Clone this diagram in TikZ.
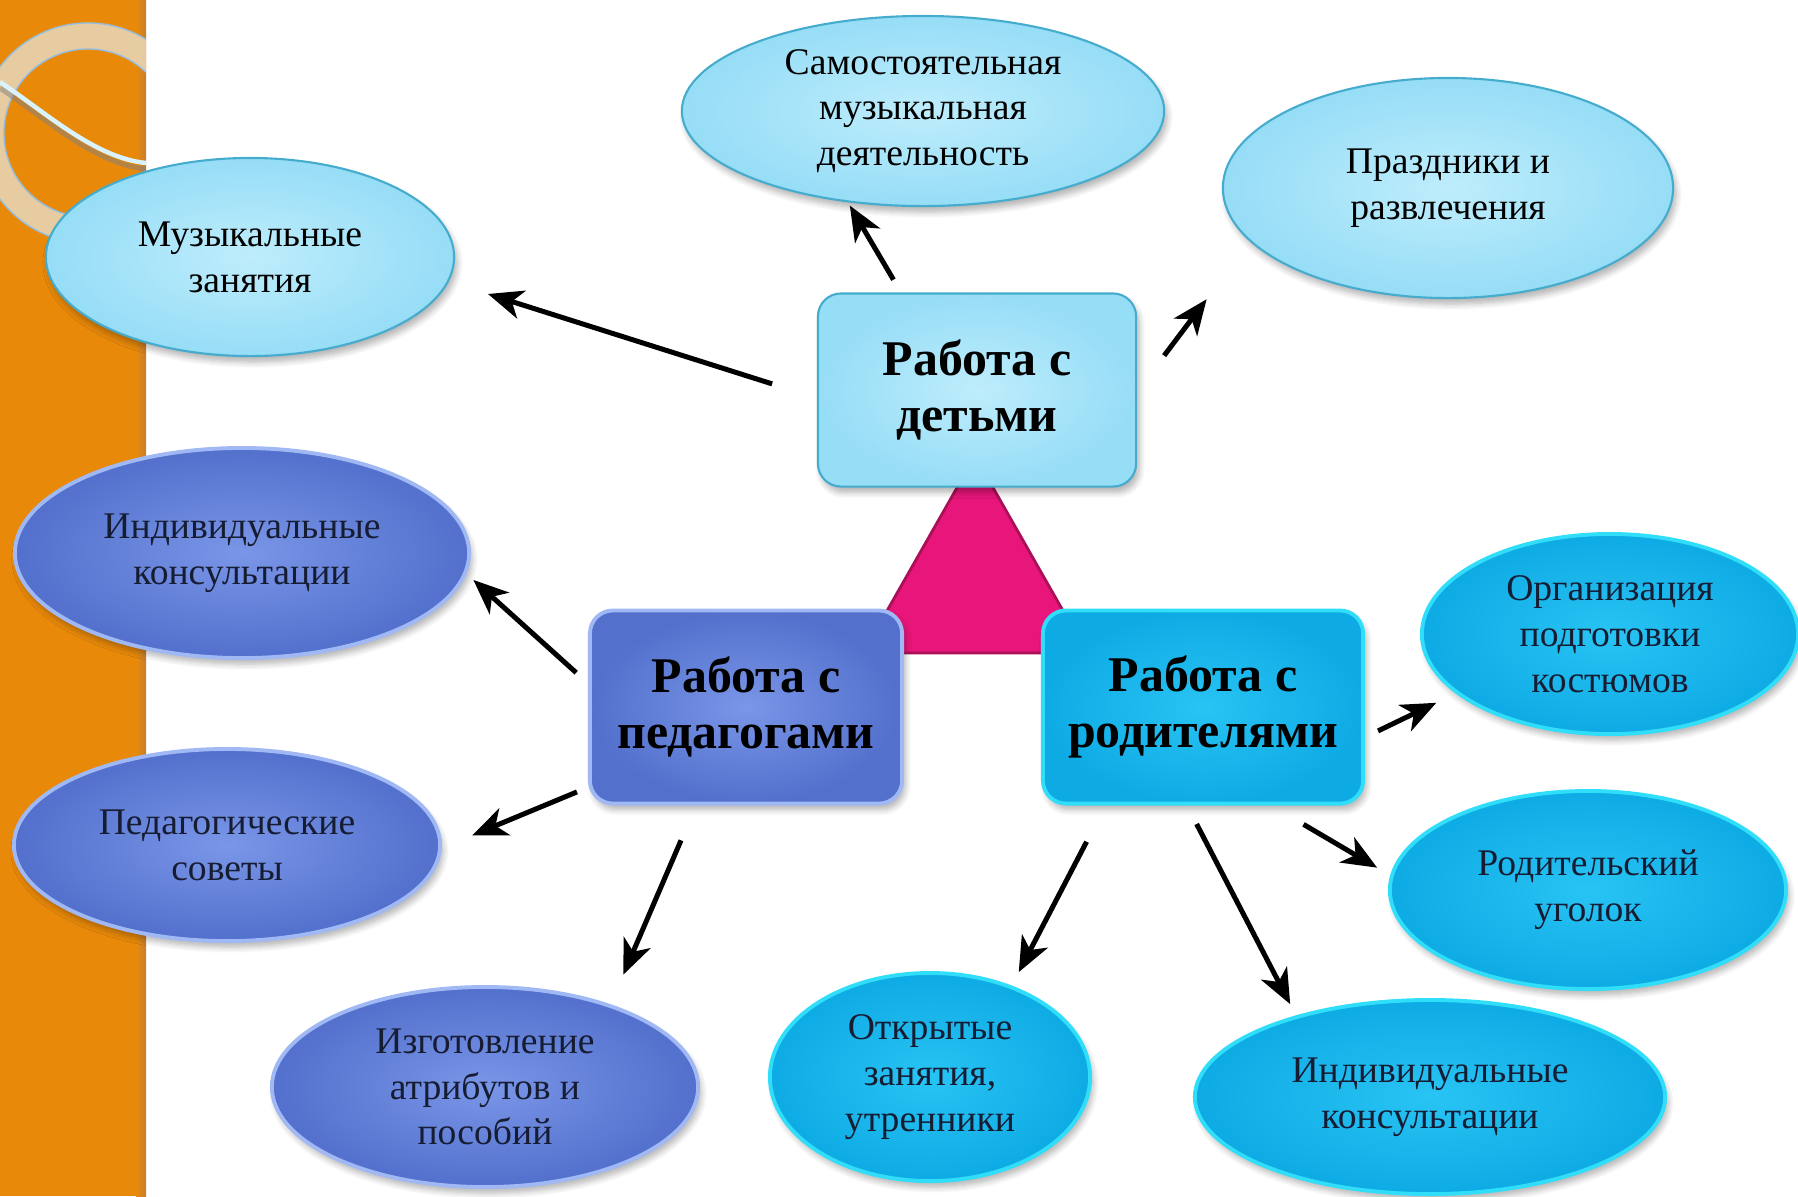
\documentclass[tikz,border=0pt]{standalone}
\usepackage{fontspec}
\setmainfont{Liberation Serif}
\usetikzlibrary{shapes.geometric,arrows.meta,shadows.blur}

\definecolor{bandorange}{RGB}{232,137,10}
\definecolor{bandedge}{RGB}{196,126,48}
\definecolor{ringbeige}{RGB}{232,212,178}
\definecolor{ringedge}{RGB}{150,190,225}
\definecolor{paleIn}{RGB}{190,237,252}
\definecolor{paleOut}{RGB}{150,221,246}
\definecolor{paleEdge}{RGB}{70,172,205}
\definecolor{pedIn}{RGB}{122,150,232}
\definecolor{pedOut}{RGB}{82,112,204}
\definecolor{pedEdge}{RGB}{160,184,244}
\definecolor{parIn}{RGB}{40,196,244}
\definecolor{parOut}{RGB}{14,170,228}
\definecolor{parEdge}{RGB}{48,222,250}
\definecolor{trimagenta}{RGB}{232,22,122}
\definecolor{triedge}{RGB}{170,16,88}
\definecolor{darktext}{RGB}{22,28,50}

\begin{document}
\begin{tikzpicture}[x=0.01cm,y=-0.01cm]
	\tikzset{every node/.style={align=center,inner sep=0pt,outer sep=0pt}}
	\tikzset{soft shadow/.style={blur shadow={shadow xshift=0.03cm,shadow yshift=-0.06cm,shadow blur radius=0.06cm,shadow blur steps=6,shadow opacity=30}}}
	\tikzset{oval/.style={ellipse,soft shadow,font=\fontsize{10.7}{13}\selectfont}}
	\tikzset{pale oval/.style={oval,draw=paleEdge,line width=0.6pt,shade,inner color=paleIn,outer color=paleOut}}
	\tikzset{ped oval/.style={oval,draw=pedEdge,line width=1.1pt,shade,inner color=pedIn,outer color=pedOut,text=darktext}}
	\tikzset{par oval/.style={oval,draw=parEdge,line width=1.1pt,shade,inner color=parIn,outer color=parOut,text=darktext}}
	\tikzset{hub/.style={rectangle,rounded corners=0.23cm,soft shadow,font=\bfseries\fontsize{14.2}{16}\selectfont}}
	\tikzset{arr/.style={-{Stealth[length=0.35cm,width=0.29cm,inset=0.1cm]},line width=0.05cm}}

	\useasboundingbox (0,0) rectangle (1798,1196);

	\fill[bandorange] (0,0) rectangle (146,1196);
	\shade[left color=bandorange,right color=bandedge] (136,0) rectangle (146,1196);
	\begin{scope}
		\clip (0,0) rectangle (146,1196);
		\fill[ringbeige,opacity=0.9,even odd rule] (88,133) circle (1.10cm) (88,133) circle (0.84cm);
		\draw[ringedge,line width=0.4pt] (88,133) circle (1.10cm) (88,133) circle (0.84cm);
		\draw[black!50,opacity=0.5,line width=0.05cm] (0,88) .. controls (45,118) and (95,164) .. (146,169);
		\draw[white!85!cyan,line width=0.045cm] (0,82) .. controls (45,112) and (95,158) .. (146,163);
	\end{scope}

	\draw[fill=trimagenta,draw=triedge,line width=0.8pt] (975,456) -- (1087,653) -- (863,653) -- cycle;

	\node[hub,draw=paleEdge,line width=0.6pt,shade,inner color=paleIn,outer color=paleOut,
		minimum width=3.18cm,minimum height=1.93cm] (kids) at (977,390) {Работа с\\детьми};
	\node[hub,draw=pedEdge,line width=1.1pt,shade,inner color=pedIn,outer color=pedOut,
		minimum width=3.12cm,minimum height=1.93cm] (ped) at (746,707) {Работа с\\педагогами};
	\node[hub,draw=parEdge,line width=1.1pt,shade,inner color=parIn,outer color=parOut,
		minimum width=3.20cm,minimum height=1.93cm] (par) at (1203,707) {Работа с\\родителями};

	\node[pale oval,minimum width=4.08cm,minimum height=1.98cm] (muz) at (250,257) {Музыкальные\\занятия};
	\node[pale oval,minimum width=4.82cm,minimum height=1.90cm] (sam) at (923,111) {Самостоятельная\\музыкальная\\деятельность};
	\node[pale oval,minimum width=4.50cm,minimum height=2.20cm] (prazd) at (1448,188) {Праздники и\\развлечения};

	\node[ped oval,minimum width=4.54cm,minimum height=2.10cm] (ik1) at (242,553) {Индивидуальные\\консультации};
	\node[ped oval,minimum width=4.26cm,minimum height=1.92cm] (ps) at (227,845) {Педагогические\\советы};
	\node[ped oval,minimum width=4.26cm,minimum height=2.00cm] (izg) at (485,1087) {Изготовление\\атрибутов и\\пособий};

	\node[par oval,minimum width=3.20cm,minimum height=2.08cm] (otk) at (930,1077) {Открытые\\занятия,\\утренники};
	\node[par oval,minimum width=4.70cm,minimum height=1.94cm] (ik2) at (1430,1097) {Индивидуальные\\консультации};
	\node[par oval,minimum width=3.96cm,minimum height=1.98cm] (rod) at (1588,890) {Родительский\\уголок};
	\node[par oval,minimum width=3.76cm,minimum height=2.00cm] (org) at (1610,634) {Организация\\подготовки\\костюмов};

	\draw[arr,shorten <=0.48cm,shorten >=0.42cm] (kids.183.4) -- (muz.-7.6);
	\draw[arr,shorten <=0.16cm,shorten >=0.05cm] (kids.128.4) -- (sam.230.9);
	\draw[arr,shorten <=0.465cm,shorten >=0.73cm] (kids.-1.5) -- (prazd.195.2);
	\draw[arr,shorten <=0.185cm,shorten >=0.11cm] (ped.172) -- (ik1.-5.9);
	\draw[arr,shorten <=0.14cm,shorten >=0.35cm] (ped.207.3) -- (ps.-1.9);
	\draw[arr,shorten <=0.40cm,shorten >=0.34cm] (ped.243.5) -- (izg.33);
	\draw[arr,shorten <=0.43cm,shorten >=0.17cm] (par.225.8) -- (otk.48.4);
	\draw[arr,shorten <=0.23cm,shorten >=0.145cm] (par.260.3) -- (ik2.149.9);
	\draw[arr,shorten <=0.41cm,shorten >=0.17cm] (par.-56) -- (rod.176.1);
	\draw[arr,shorten <=0.166cm,shorten >=0.235cm] (par.-11.7) -- (org.201.6);
\end{tikzpicture}
\end{document}
